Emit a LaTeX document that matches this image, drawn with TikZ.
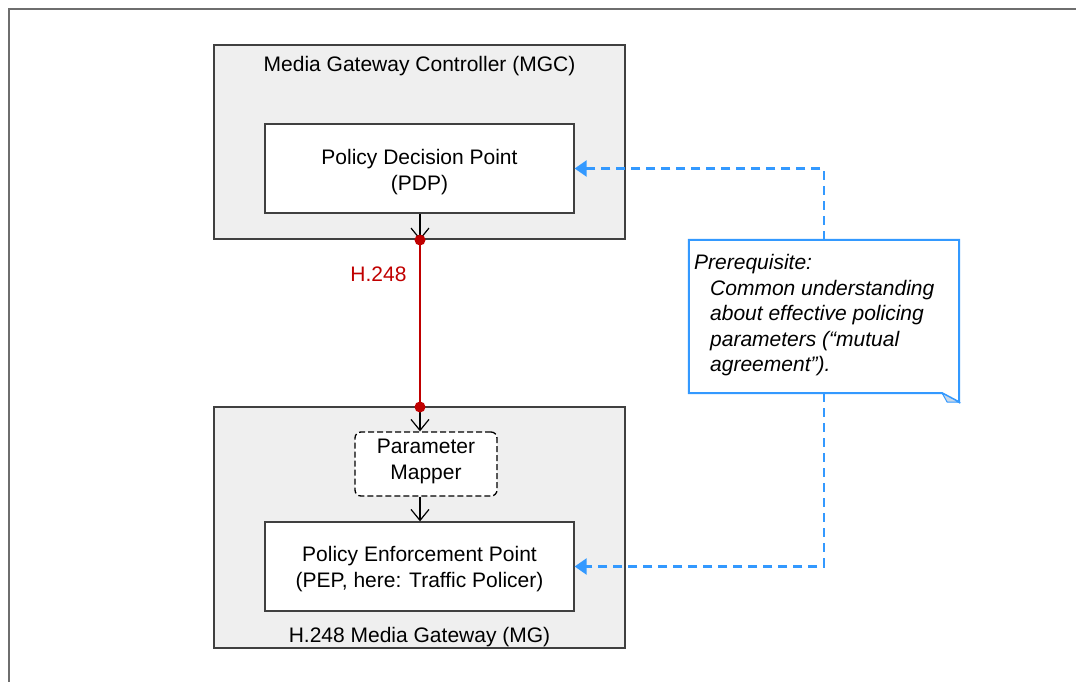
\documentclass[tikz,border=0pt]{standalone}
\usepackage{fontspec}
\setmainfont{Liberation Sans}
\usetikzlibrary{arrows.meta}
\definecolor{boxgray}{HTML}{EFEFEF}
\definecolor{boxline}{HTML}{404040}
\definecolor{framecol}{HTML}{6E6E6E}
\definecolor{h248red}{HTML}{C00000}
\definecolor{noteblue}{HTML}{3399FF}
\definecolor{foldfill}{HTML}{C9D9EA}
\tikzset{
  graybox/.style={draw=boxline, fill=boxgray, line width=1.3pt, rectangle, inner sep=0pt},
  whitebox/.style={draw=boxline, fill=white, line width=1.3pt, rectangle, inner sep=0pt},
  mapperbox/.style={draw=black, fill=white, line width=1.3pt, dash pattern=on 6pt off 3pt, rounded corners=6pt, rectangle, inner sep=0pt},
  lbl/.style={font=\fontsize{21}{26}\selectfont, inner sep=0pt},
  mltext/.style={lbl, align=center, anchor=north},
  blkarrow/.style={draw=black, line width=1.2pt, -{Straight Barb[length=11pt,width=18pt,line width=1.2pt]}},
  redline/.style={draw=h248red, line width=2pt},
  reddot/.style={circle, fill=h248red, minimum size=11pt, inner sep=0pt},
  bluedash/.style={draw=noteblue, line width=2.4pt, dash pattern=on 9pt off 6pt, -{Triangle[length=12pt,width=16pt]}},
}
\begin{document}
\begin{tikzpicture}[x=1pt,y=-1pt]
\useasboundingbox (0,0) rectangle (1076,682);
% outer frame (top and left edges only visible)
\draw[framecol, line width=2pt] (9,682) -- (9,9) -- (1076,9);

% MGC
\node[graybox, minimum width=411pt, minimum height=194pt] (mgc) at (419.5,142) {};
\node[lbl, anchor=base] (mgctitle) at (419.5,72) {Media Gateway Controller (MGC)};
\node[whitebox, minimum width=309pt, minimum height=89pt] (pdp) at (419.5,168.5) {};
\node[mltext] (pdptext) at (419.5,149) {Policy Decision Point\\(PDP)};

% MG
\node[graybox, minimum width=411pt, minimum height=241pt] (mg) at (419.5,527.5) {};
\node[lbl, anchor=base] (mgtitle) at (419.5,642) {H.248 Media Gateway (MG)};
\node[mapperbox, minimum width=142pt, minimum height=64pt] (mapper) at (426,464) {};
\node[mltext] (mappertext) at (426,438.5) {Parameter\\Mapper};
\node[whitebox, minimum width=309pt, minimum height=89pt] (pep) at (419.5,566.5) {};
\node[mltext] (peptext) at (419.5,545.7) {Policy Enforcement Point\\(PEP, here: Traffic Policer)};

% H.248 link
\coordinate (d1) at (420,240);
\coordinate (d2) at (420,407);
\draw[redline] (d1) -- (d2);
\node[lbl, text=h248red, anchor=base] (h248) at (378.5,281) {H.248};
\draw[blkarrow] (pdp.south -| d1) -- (d1);
\node[reddot] (dot1) at (d1) {};
\draw[blkarrow] (d2) -- (mapper.north -| d2);
\node[reddot] (dot2) at (d2) {};
\draw[blkarrow] (mapper.south -| d2) -- (pep.north -| d2);

% note
\node[minimum width=270pt, minimum height=153pt, inner sep=0pt] (note) at (824,316.5) {};
\draw[bluedash] (note.north) |- (pdp.east);
\draw[bluedash] (note.south) |- (pep.east);
\draw[noteblue, line width=2pt, fill=white, line join=miter]
  (note.north west) -- (note.north east) -- ([yshift=-9pt]note.south east) -- ([xshift=-17pt]note.south east) -- (note.south west) -- cycle;
\draw[noteblue, line width=1pt, fill=foldfill]
  ([xshift=-17pt]note.south east) -- ([xshift=-12pt,yshift=-9pt]note.south east) -- ([yshift=-9pt]note.south east) -- cycle;
\node[anchor=north west, inner sep=0pt, align=left, font=\fontsize{21}{25.5}\selectfont\itshape] (notetext) at (694,254.5)
  {Prerequisite:\\
   \hspace*{16pt}Common understanding\\
   \hspace*{16pt}about effective policing\\
   \hspace*{16pt}parameters (“mutual\\
   \hspace*{16pt}agreement”).};
\end{tikzpicture}
\end{document}
